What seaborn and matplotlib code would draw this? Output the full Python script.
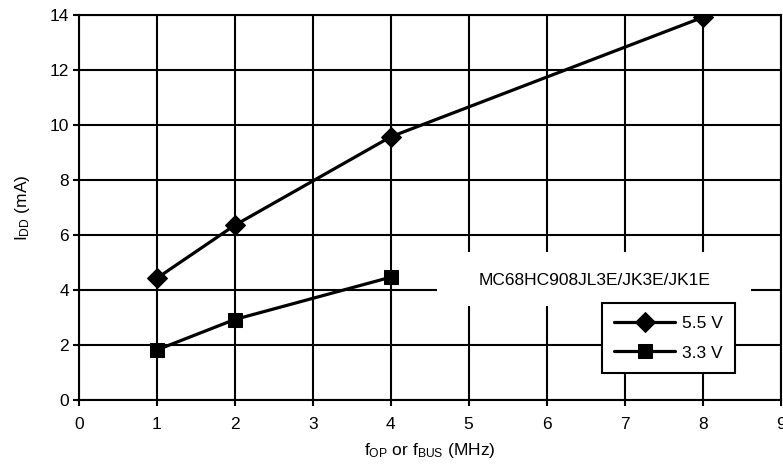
import pandas as pd
import matplotlib.pyplot as plt
import seaborn as sns
from matplotlib.patches import Rectangle

# Supply current vs. operating frequency
freq_55 = [1, 2, 4, 8]
idd_55 = [4.43, 6.36, 9.58, 13.93]
freq_33 = [1, 2, 4]
idd_33 = [1.82, 2.93, 4.47]
series_names = ["5.5 V", "3.3 V"]
part_label = "MC68HC908JL3E/JK3E/JK1E"

df = pd.concat([
    pd.DataFrame({"freq": freq_55, "idd": idd_55, "supply": series_names[0]}),
    pd.DataFrame({"freq": freq_33, "idd": idd_33, "supply": series_names[1]}),
])

sns.set_style("white")
plt.rcParams["font.family"] = ["Liberation Sans", "DejaVu Sans"]
plt.rcParams["mathtext.fontset"] = "custom"
plt.rcParams["mathtext.rm"] = "Liberation Sans"
plt.rcParams["mathtext.it"] = "Liberation Sans"
plt.rcParams["text.color"] = "black"
plt.rcParams["axes.labelcolor"] = "black"

fig = plt.figure(figsize=(7.83, 4.68), dpi=100)
ax = fig.add_axes([0.1005, 0.1453, 0.8965, 0.8217])

sns.lineplot(data=df, x="freq", y="idd", hue="supply", style="supply",
             markers={"5.5 V": "D", "3.3 V": "s"}, dashes=False,
             palette={"5.5 V": "black", "3.3 V": "black"},
             linewidth=2.3, markersize=10, markeredgecolor="black",
             ax=ax, zorder=4)

ax.set_xlim(0, 9)
ax.set_ylim(0, 14)
ax.set_xticks(range(0, 10))
ax.set_yticks(range(0, 15, 2))
ax.grid(True, color="black", linewidth=1.5)
ax.set_axisbelow(True)
for s in ax.spines.values():
    s.set_color("black")
    s.set_linewidth(1.5)
ax.tick_params(axis="both", direction="out", length=4, width=1.5,
               labelsize=12.5, colors="black", pad=3)
ax.tick_params(axis="x", pad=8)
ax.tick_params(bottom=True, left=True)

# white box with the part number, covering the grid
ax.add_patch(Rectangle((4.59, 3.42), 4.03, 1.96, facecolor="white",
                       edgecolor="none", zorder=3))
ax.text(6.61, 4.36, part_label, ha="center", va="center", fontsize=12.5, zorder=5)

ax.set_xlabel(r"f$_{\mathrm{OP}}$ or f$_{\mathrm{BUS}}$ (MHz)", fontsize=12.5, labelpad=7)
ax.set_ylabel(r"I$_{\mathrm{DD}}$ (mA)", fontsize=12.5, labelpad=13)

leg = ax.legend(title=None, loc="lower right", bbox_to_anchor=(0.935, 0.071),
                frameon=True, fancybox=False, fontsize=12.5, handlelength=3.5,
                borderpad=0.7, labelspacing=0.85, handletextpad=0.4,
                borderaxespad=0)
leg.get_frame().set_edgecolor("black")
leg.get_frame().set_linewidth(1.5)
leg.get_frame().set_alpha(1)
leg.set_zorder(6)

plt.savefig("out.png", dpi=100)
